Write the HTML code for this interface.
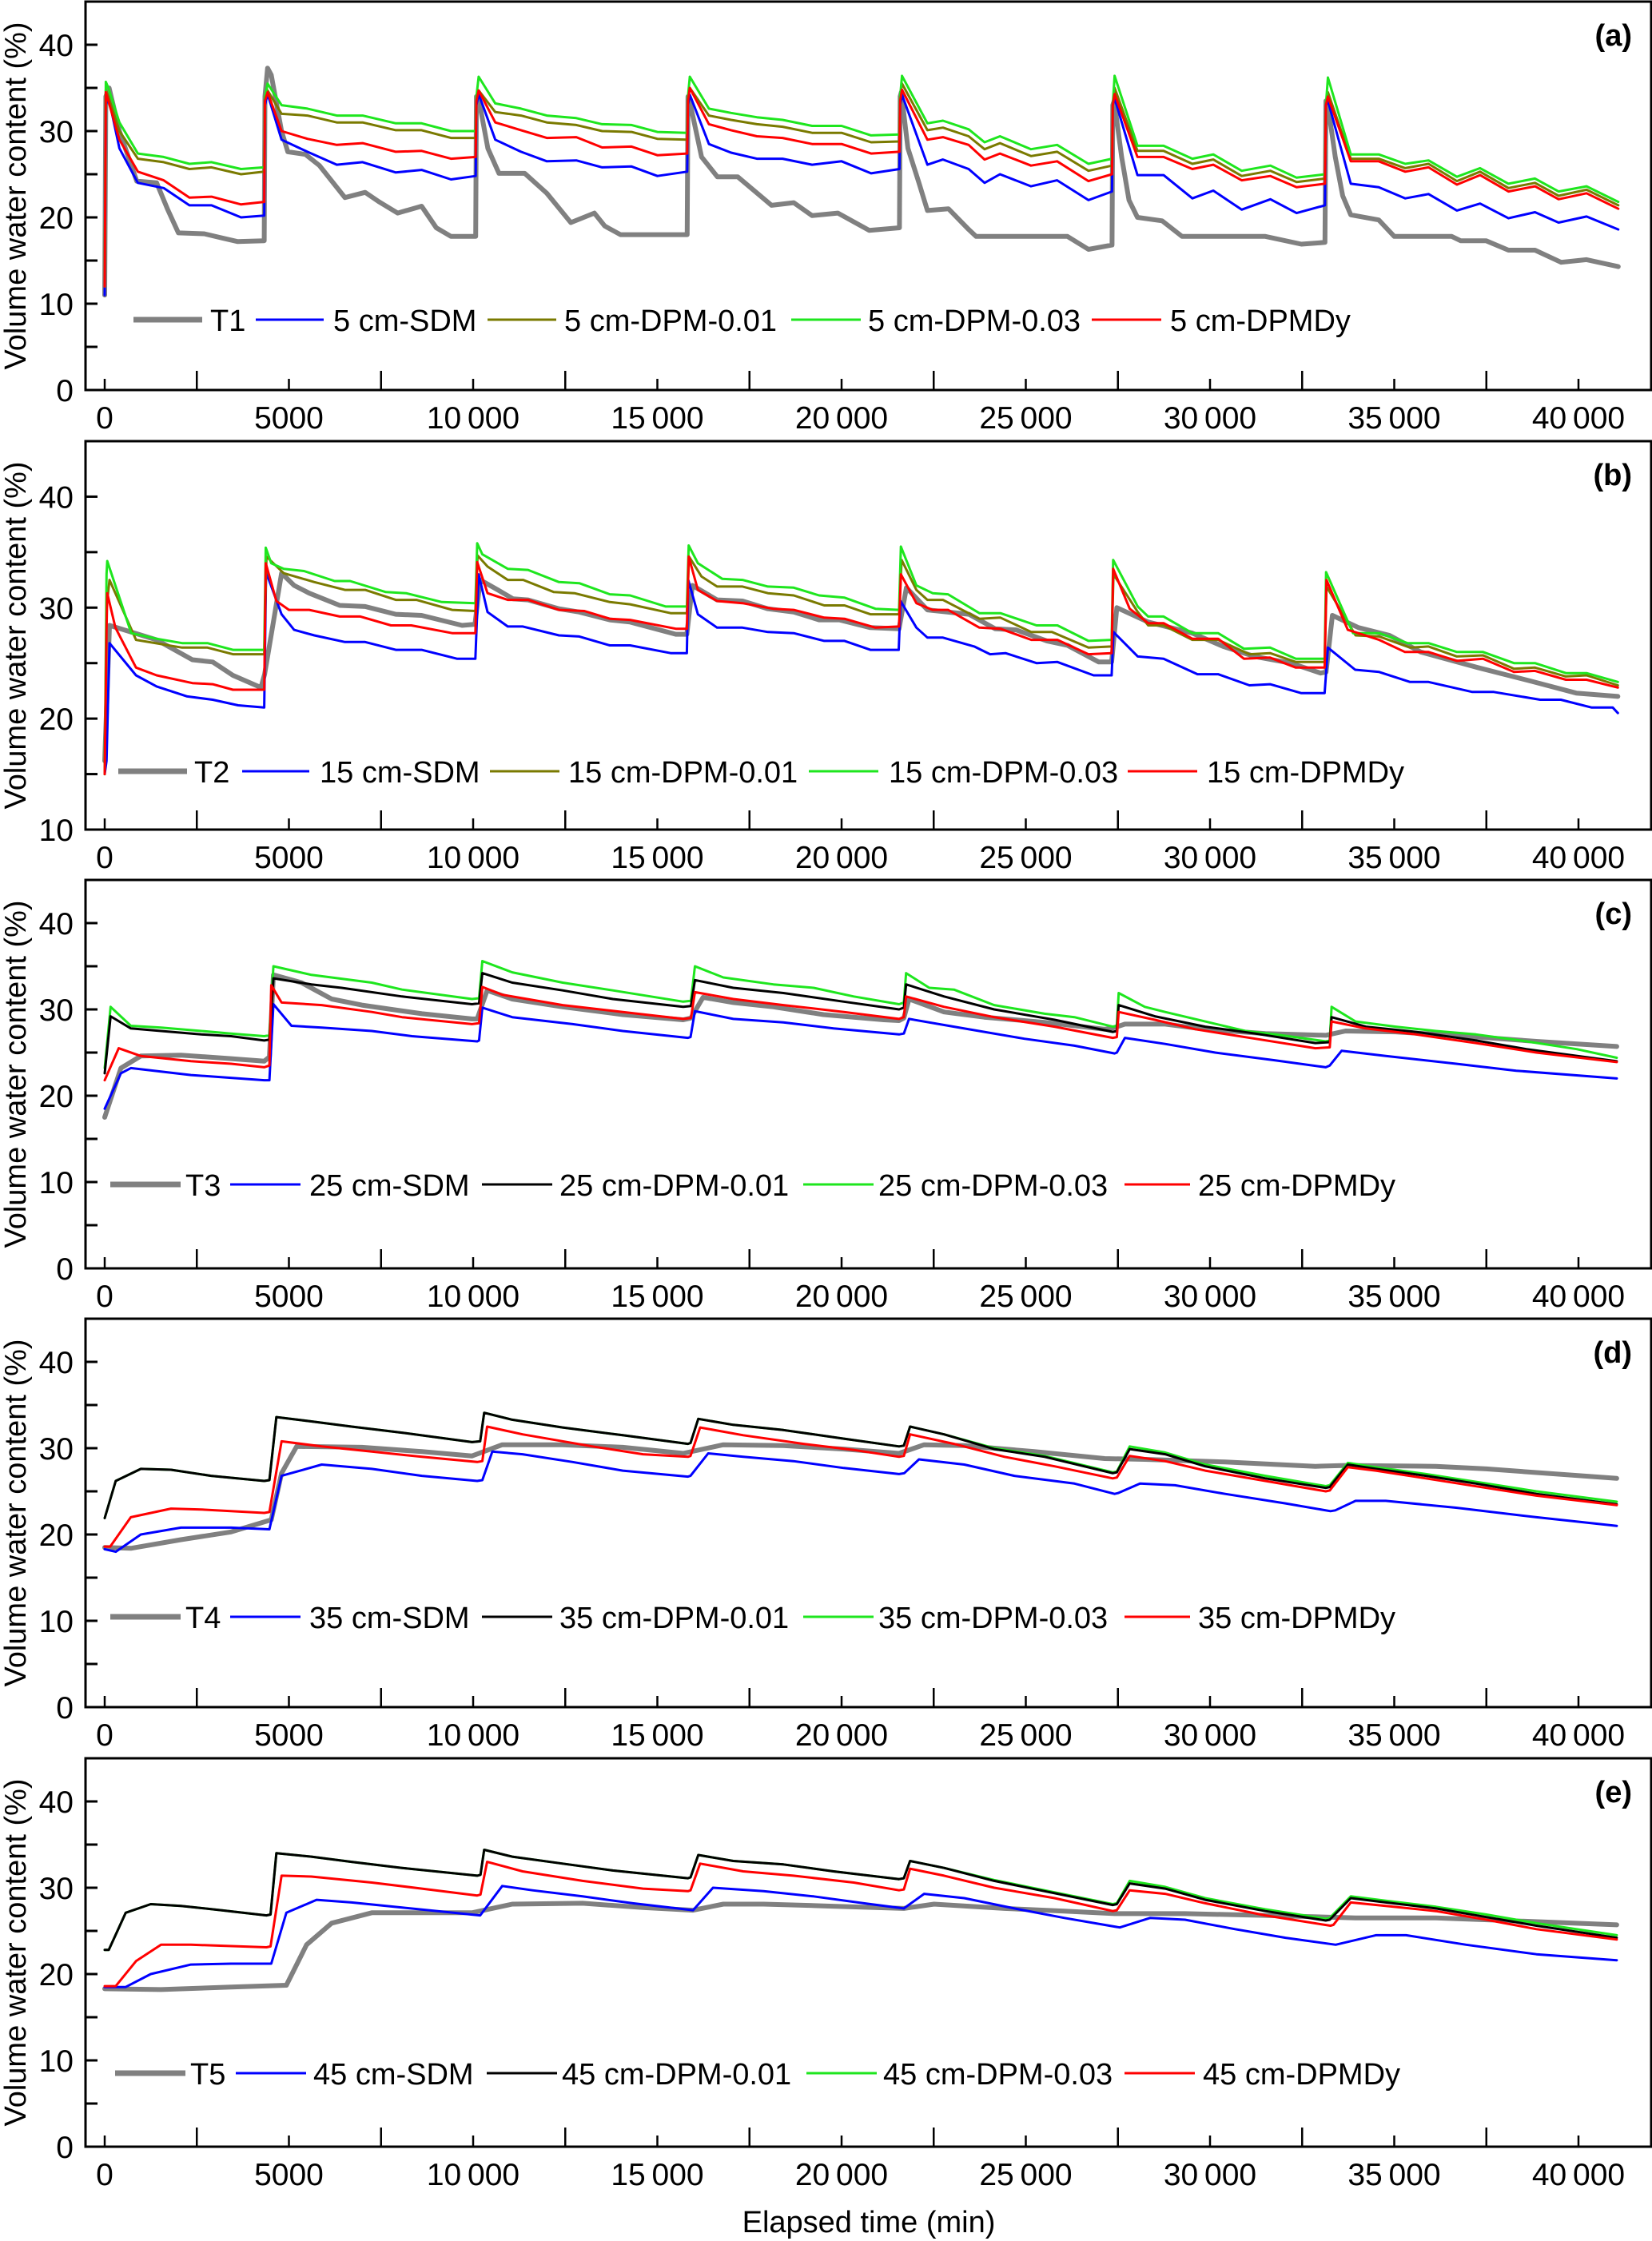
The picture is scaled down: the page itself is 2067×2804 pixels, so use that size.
<!DOCTYPE html>
<html><head><meta charset="utf-8"><style>
html,body{margin:0;padding:0;background:#fff;}
svg{display:block;font-family:"Liberation Sans",Arial,sans-serif;}
</style></head><body>
<svg id="chart" width="2067" height="2804" viewBox="0 0 2067 2804" xmlns="http://www.w3.org/2000/svg"></svg>
<script>
// ---------- shared axis data ----------
const xTicks = [0,5000,10000,15000,20000,25000,30000,35000,40000];
const xTickLabels = ["0","5000","10\u2009000","15\u2009000","20\u2009000","25\u2009000","30\u2009000","35\u2009000","40\u2009000"];
const yTicksFull = [0,10,20,30,40];
const yTicksB = [10,20,30,40];

// ---------- panel (a) ----------
const a_T1 = [[0,11],[30,34],[120,35],[400,30],[870,24.2],[1410,24],[1700,21],[2000,18.2],[2700,18.1],[3200,17.6],[3600,17.2],[4330,17.3],
[4350,34],[4420,37.3],[4520,36.5],[4800,30],[4970,27.6],[5450,27.3],[5830,26],[6520,22.3],[7070,22.9],[7450,21.8],[7950,20.5],[8600,21.3],[9000,18.8],[9400,17.8],[10070,17.8],
[10090,34],[10160,33.5],[10400,28],[10700,25.1],[11400,25.1],[12000,22.8],[12650,19.4],[13290,20.5],[13570,19],[14000,18],[15810,18],
[15830,34],[15900,33],[16200,27],[16630,24.7],[17180,24.7],[18100,21.4],[18700,21.7],[19200,20.2],[19900,20.5],[20750,18.5],[21570,18.8],
[21590,34],[21620,34.5],[21800,28],[22100,24],[22330,20.8],[22900,21],[23450,18.6],[23650,17.8],[26130,17.8],[26700,16.3],[27340,16.8],
[27360,33],[27400,33.5],[27600,27],[27800,22],[28030,20],[28700,19.6],[29240,17.8],[31500,17.8],[32480,16.9],[33120,17.1],
[33145,33.5],[33200,33],[33400,27],[33600,22.5],[33820,20.3],[34580,19.7],[35000,17.8],[36560,17.8],[36800,17.3],[37490,17.3],[38100,16.2],[38820,16.2],[39530,14.8],[40220,15.1],[41080,14.3]];
const a_time = [0,30,100,400,900,1600,2300,2900,3700,4330,
4350,4420,4800,5500,6300,7000,7900,8600,9400,10070,
10090,10150,10600,11300,12000,12800,13500,14300,15000,15810,
15830,15880,16400,17000,17700,18400,19200,20000,20800,21570,
21590,21640,22330,22750,23450,23880,24300,25140,25850,26700,27340,
27360,27410,28030,28740,29520,30090,30860,31640,32350,33120,
33145,33200,33820,34580,35300,35930,36700,37330,38100,38820,39460,40220,41080];
const a_SDM = [11,33,34,28,24,23.4,21.4,21.4,20,20.2,
33,34.3,29,27.6,26.1,26.4,25.2,25.5,24.4,24.8,
33,34.3,29,27.6,26.5,26.6,25.8,25.9,24.8,25.3,
33,34.2,28.5,27.5,26.8,26.8,26.1,26.5,25.1,25.6,
33,34.2,26.1,26.7,25.6,24,25,23.6,24.3,22,23,
33,33.8,24.9,24.9,22.2,23.1,20.9,22.1,20.5,21.4,
33,33.5,23.9,23.5,22.2,22.7,20.8,21.6,19.9,20.6,19.4,20.1,18.6];
const a_DPM01 = [12,34.8,34,30,26.8,26.4,25.6,25.8,25,25.3,
34,34.7,32,31.8,31,31,30.1,30.1,29.2,29.2,
34,34.7,32.2,31.8,31,30.7,30,29.9,29.1,29,
34,35,31.8,31.3,30.8,30.5,29.8,29.8,28.7,28.8,
34,35.5,30.1,30.4,29.4,27.9,28.6,27.1,27.6,25.4,26,
33,35,27.7,27.7,26.2,26.7,24.8,25.4,24.1,24.5,
33,34.5,26.8,26.8,25.7,26.2,24.2,25.3,23.4,24,22.5,23.2,21.4];
const a_DPM03 = [12,35.7,35,31,27.4,27,26.2,26.4,25.6,25.8,
34,35.5,33,32.6,31.8,31.8,30.9,30.9,30,30,
34,36.3,33.2,32.6,31.8,31.5,30.8,30.7,29.9,29.8,
34,36.3,32.6,32.1,31.6,31.3,30.6,30.6,29.5,29.6,
34,36.4,30.9,31.2,30.2,28.7,29.4,27.9,28.4,26.2,26.8,
33,36.4,28.3,28.3,26.8,27.3,25.4,26,24.6,25,
33,36.2,27.3,27.3,26.2,26.6,24.7,25.7,23.9,24.5,23,23.6,21.8];
const a_DPMDy = [12,34.5,33.5,29,25.3,24.3,22.3,22.4,21.5,21.8,
33.5,34.5,30,29.1,28.4,28.6,27.6,27.7,26.8,27,
33.5,34.7,31,30.1,29.2,29.3,28.1,28.2,27.2,27.4,
33.5,35,30.8,30.1,29.4,29.2,28.5,28.5,27.4,27.6,
33.5,34.8,29,29.3,28.4,26.7,27.4,26,26.5,24.2,25,
33,34.3,27,27,25.6,26.1,24.3,24.8,23.5,23.9,
33,34,26.5,26.5,25.3,25.8,23.8,24.9,23,23.6,22.1,22.8,21];

// ---------- panel (b) ----------
const b_T2 = [[0,16.2],[130,28.4],[1410,27.1],[2380,25.3],[2930,25.1],[3480,23.9],[4240,22.8],[4340,24],[4800,33.1],[5140,32],[5550,31.3],[6380,30.2],[7070,30.1],[7900,29.4],[8600,29.3],[9700,28.4],[10050,28.5],
[10190,32.5],[10670,31.6],[11080,30.8],[11490,30.7],[12330,29.9],[12880,29.6],[13710,28.9],[14260,28.7],[15500,27.6],[15800,27.6],
[15950,32],[16620,30.7],[17310,30.6],[18000,29.9],[18700,29.6],[19390,28.9],[19940,28.9],[20780,28.2],[21560,28.1],
[21760,31.8],[22330,29.8],[23460,29.4],[24170,28.1],[24730,28],[25570,27],[26130,26.6],[26980,25.1],[27330,25.1],
[27470,30],[28320,28.7],[29520,27.7],[30360,26.5],[31210,25.6],[32190,25],[33000,24.1],
[33150,24.2],[33320,29.3],[34030,28.2],[34870,27.5],[35720,26],[37270,24.6],[38680,23.4],[39940,22.3],[41070,22]];
const b_SDM = [[0,15],[50,16.2],[130,26.8],[850,23.9],[1410,22.9],[2240,22],[2930,21.7],[3620,21.2],[4330,21],[4380,33.2],[4800,29.4],[5140,28],[5690,27.5],[6520,26.9],[7070,26.9],[7900,26.2],[8600,26.2],[9560,25.4],[10060,25.4],
[10150,33],[10390,29.6],[10940,28.3],[11350,28.3],[12330,27.5],[12880,27.4],[13710,26.6],[14260,26.6],[15360,25.9],[15800,25.9],
[15840,32.5],[16100,29.4],[16620,28.2],[17310,28.2],[18000,27.8],[18700,27.7],[19530,27],[20080,27],[20780,26.2],[21550,26.2],
[21600,30.6],[22030,28.2],[22330,27.3],[22750,27.3],[23600,26.5],[24030,25.8],[24450,25.9],[25290,25],[25860,25.1],[26840,23.9],[27330,23.9],
[27380,27.8],[28040,25.6],[28740,25.4],[29660,24],[30220,24],[31070,23],[31630,23.1],[32470,22.3],[33110,22.3],
[33200,26.4],[33940,24.4],[34590,24.2],[35430,23.3],[35930,23.3],[37120,22.4],[37700,22.4],[38960,21.7],[39520,21.7],[40360,21],[40930,21],[41070,20.5]];
const b_DPM01 = [[0,15],[50,30],[130,32.5],[850,27.1],[2100,26.4],[2790,26.4],[3480,25.8],[4330,25.8],[4390,34.6],[4860,33.1],[5690,32.3],[6520,31.6],[7070,31.6],[7900,30.7],[8460,30.7],[9430,29.8],[10060,29.7],
[10120,34.7],[10390,33.7],[10940,32.5],[11360,32.5],[12190,31.4],[12750,31.3],[13710,30.5],[14260,30.3],[15360,29.5],[15800,29.5],
[15860,34.6],[16200,32.8],[16620,31.9],[17310,31.9],[18000,31.3],[18700,31.1],[19530,30.2],[20080,30.2],[20780,29.4],[21560,29.4],
[21630,34.3],[22030,31.6],[22330,30.7],[22750,30.7],[23740,29],[24310,29.1],[25150,27.8],[25710,27.8],[26700,26.4],[27330,26.5],
[27380,33],[28040,29.6],[28320,28.4],[28740,28.4],[29520,27.1],[30220,27.1],[31070,25.8],[31630,25.9],[32330,25.1],[33110,25.1],
[33160,31.9],[33950,27.5],[34590,27.4],[35430,26.4],[35930,26.5],[36700,25.6],[37410,25.7],[38250,24.5],[38820,24.6],[39660,23.8],[40220,23.9],[41070,23]];
const b_DPM03 = [[0,15],[50,33],[70,34.2],[720,27.7],[1410,27.2],[2100,26.8],[2790,26.8],[3480,26.2],[4330,26.2],[4370,35.4],[4520,34],[4860,33.5],[5410,33.3],[6240,32.4],[6660,32.4],[7630,31.4],[8180,31.3],[9150,30.5],[10060,30.4],
[10110,35.8],[10250,34.8],[10940,33.5],[11490,33.4],[12330,32.3],[12880,32.2],[13710,31.2],[14260,31.1],[15230,30.1],[15800,30.1],
[15850,35.6],[16100,34],[16760,32.6],[17310,32.5],[18000,31.9],[18700,31.8],[19390,31.1],[20080,30.9],[20920,29.9],[21560,29.8],
[21610,35.5],[22030,32],[22470,31.3],[22890,31.2],[23740,29.5],[24310,29.5],[25290,28.4],[25860,28.4],[26700,27],[27330,27.1],
[27370,34.3],[28040,30.1],[28320,29.2],[28740,29.2],[29520,27.7],[30220,27.7],[30920,26.3],[31630,26.4],[32330,25.4],[33110,25.4],
[33150,33.2],[33880,27.7],[34590,27.7],[35360,26.8],[35930,26.8],[36700,26],[37410,26],[38250,25],[38820,25],[39660,24.1],[40220,24.1],[41070,23.3]];
const b_DPMDy = [[0,15],[50,28],[70,31.3],[290,28.2],[850,24.6],[1410,23.9],[2380,23.2],[2930,23.1],[3480,22.6],[4330,22.6],[4370,34],[4660,30.6],[5000,29.8],[5550,29.8],[6380,29.2],[6940,29.2],[7770,28.4],[8320,28.4],[9430,27.7],[10060,27.7],
[10110,34.1],[10390,31.3],[10940,30.7],[11490,30.7],[12330,29.8],[13020,29.7],[13710,29],[14260,28.9],[15500,28.1],[15800,28.1],
[15850,34.6],[16100,31.6],[16620,30.6],[17310,30.4],[18140,29.9],[18700,29.8],[19530,29.1],[20080,29],[20920,28.2],[21560,28.3],
[21610,33],[22030,30.4],[22470,29.8],[22890,29.8],[23740,28.2],[24310,28.1],[25150,27.1],[25860,27.1],[26700,25.8],[27330,25.9],
[27370,33.5],[27820,29.9],[28320,28.6],[28740,28.6],[29520,27.2],[30220,27.2],[30920,25.4],[31630,25.5],[32330,24.6],[33110,24.6],
[33160,32.5],[33740,28],[34590,27.1],[35290,26],[35930,26],[36700,25.2],[37410,25.4],[38250,24.2],[38820,24.3],[39660,23.5],[40220,23.5],[41070,22.8]];

// ---------- panel (c) ----------
const c_T3 = [[0,17.5],[440,23.2],[980,24.6],[2070,24.7],[3430,24.3],[4330,24],[4470,24.5],[4580,34],[5340,33.1],[6160,31.2],[6980,30.5],[7790,30],[8610,29.5],[9970,28.9],[10110,28.9],[10380,32.2],[11060,31.2],[12430,30.3],[14060,29.4],[15700,28.8],[15910,29],[16240,31.4],[17060,30.8],[18150,30.3],[19510,29.4],[21150,28.8],[21560,28.7],[21690,29],[21830,31.2],[22780,29.7],[23870,29.1],[25510,28.5],[27140,27.7],[27410,27.9],[27690,28.3],[28780,28.3],[29870,27.7],[31500,27.2],[33140,27],[33680,27.5],[35040,27.4],[36950,26.9],[38860,26.3],[41040,25.7]];
const c_SDM = [[0,18.5],[440,22.6],[710,23.2],[2340,22.4],[4330,21.8],[4470,21.8],[4580,30.6],[5070,28.1],[5890,27.9],[7250,27.5],[8340,26.9],[10110,26.3],[10160,26.4],[10250,30.2],[11060,29.1],[12700,28.3],[14060,27.5],[15830,26.7],[15900,26.8],[16020,29.8],[17060,28.9],[18420,28.5],[19780,27.8],[21560,27.1],[21690,27.2],[21830,28.9],[23050,28],[24960,26.6],[26320,25.8],[27410,24.9],[27470,25],[27690,26.7],[28780,26],[30140,25],[31770,24.1],[33140,23.3],[33250,23.5],[33570,25.2],[34770,24.6],[36680,23.7],[38310,22.9],[41040,22]];
const c_DPM01 = [[0,22.6],[160,29.2],[710,27.8],[1530,27.5],[2620,27.1],[3430,26.9],[4330,26.4],[4470,26.5],[4580,33.6],[5610,32.9],[6430,32.5],[8070,31.5],[9970,30.6],[10160,30.7],[10250,34.2],[11060,33.1],[12430,32.2],[13790,31.2],[15700,30.3],[15910,30.4],[16020,33.4],[17060,32.5],[18420,31.9],[20060,30.9],[21560,30],[21690,30.2],[21750,32.9],[22780,31.5],[24140,30],[25780,28.8],[27360,27.4],[27470,27.5],[27520,30.5],[28500,29.2],[29870,28],[31230,27.2],[32860,26.1],[33250,26.2],[33300,29.1],[34230,28],[35590,27.4],[37220,26.4],[38590,25.4],[41040,24]];
const c_DPM03 = [[0,23.2],[160,30.3],[710,28.1],[1530,27.9],[2620,27.5],[3430,27.2],[4330,26.9],[4470,27],[4580,35],[5610,34],[7250,33.1],[8070,32.3],[9970,31.2],[10160,31.3],[10250,35.6],[11060,34.3],[12430,33.1],[13790,32.2],[15700,30.9],[15910,31],[16020,35],[16790,33.7],[18150,32.9],[19240,32.5],[20330,31.5],[21560,30.6],[21690,30.8],[21750,34.2],[22380,32.5],[23050,32.3],[24140,30.5],[25510,29.5],[26320,29.1],[27360,28],[27470,28.1],[27520,31.9],[28230,30.3],[28780,29.7],[29870,28.6],[30960,27.5],[31770,27.1],[33140,26.3],[33250,26.4],[33300,30.3],[33950,28.6],[35040,28],[36130,27.5],[37220,27.1],[38590,26.3],[39950,25.4],[41040,24.4]];
const c_DPMDy = [[0,21.8],[380,25.5],[980,24.6],[2340,24],[3430,23.7],[4330,23.3],[4470,23.5],[4520,32.8],[4800,30.8],[5890,30.5],[7250,29.7],[8070,29.1],[9970,28.3],[10160,28.4],[10250,32.6],[10790,31.7],[12430,30.5],[14060,29.7],[15700,28.9],[15910,29],[16020,32],[17060,31.2],[18420,30.5],[20060,29.7],[21560,28.9],[21690,29.1],[21750,31.5],[22780,30.3],[24140,29.1],[25780,28],[27360,26.7],[27470,26.8],[27520,29.7],[28500,28.8],[29600,27.7],[31230,26.6],[32860,25.5],[33250,25.6],[33300,28.6],[34230,27.8],[35590,27.1],[37220,26.1],[38860,25],[41040,23.9]];

// ---------- panel (d) ----------
const d_T4 = [[0,18.5],[710,18.4],[2070,19.4],[3430,20.3],[4520,21.7],[4800,27.1],[5210,30.2],[6980,30.1],[8610,29.6],[9970,29.1],[10790,30.4],[12430,30.4],[14060,30.1],[15700,29.4],[16790,30.4],[18420,30.3],[20060,29.9],[21560,29.4],[22240,30.4],[23330,30.3],[25230,29.6],[27140,28.8],[28230,28.7],[30410,28.4],[32860,27.9],[33680,28],[36130,27.9],[37500,27.6],[41040,26.5]];
const d_SDM = [[0,18.3],[300,18],[980,20],[2070,20.8],[3430,20.8],[4470,20.6],[4800,26.8],[5890,28.1],[7250,27.6],[8610,26.8],[10110,26.2],[10250,26.3],[10520,29.6],[11340,29.3],[12700,28.4],[14060,27.4],[15830,26.7],[15900,26.8],[16380,29.4],[17330,29],[18690,28.5],[20060,27.7],[21560,27],[21700,27.1],[22100,28.7],[23330,28.1],[24690,26.8],[26320,25.9],[27410,24.7],[27500,24.8],[28100,25.9],[29050,25.7],[30410,24.7],[32050,23.6],[33270,22.7],[33400,22.8],[33950,23.9],[34770,23.9],[36680,23.1],[38860,22],[41040,21]];
const d_DPM01 = [[0,21.9],[300,26.2],[980,27.6],[1800,27.5],[2890,26.8],[4330,26.2],[4470,26.3],[4660,33.6],[5610,33.1],[6700,32.5],[8070,31.8],[9970,30.7],[10190,30.8],[10300,34.1],[11060,33.3],[12430,32.4],[14060,31.5],[15830,30.5],[15900,30.6],[16110,33.4],[17060,32.7],[18420,32.1],[20060,31.1],[21560,30.2],[21690,30.3],[21860,32.5],[22780,31.6],[24140,29.9],[25510,29],[27360,27.1],[27470,27.2],[27820,29.9],[28780,29.3],[29870,27.9],[31500,26.5],[33140,25.4],[33250,25.5],[33740,28.1],[34500,27.6],[35860,26.8],[37220,25.9],[38860,24.7],[41040,23.5]];
const d_DPM03 = [[0,21.9],[300,26.2],[980,27.6],[1800,27.5],[2890,26.8],[4330,26.2],[4470,26.3],[4660,33.6],[5610,33.1],[6700,32.5],[8070,31.8],[9970,30.7],[10190,30.8],[10300,34.1],[11060,33.3],[12430,32.4],[14060,31.5],[15830,30.5],[15900,30.6],[16110,33.4],[17060,32.7],[18420,32.1],[20060,31.1],[21560,30.2],[21690,30.3],[21860,32.5],[22780,31.6],[24140,30],[25510,29.1],[27360,27.2],[27470,27.3],[27820,30.2],[28780,29.5],[29870,28.1],[31500,26.8],[33140,25.6],[33250,25.7],[33740,28.3],[34500,27.8],[35860,27],[37220,26.1],[38860,25],[41040,23.8]];
const d_DPMDy = [[0,18.6],[150,18.6],[710,22],[1800,23],[2620,22.9],[4330,22.5],[4470,22.6],[4800,30.8],[5890,30.2],[7250,29.6],[8610,29],[10110,28.4],[10250,28.5],[10380,32.5],[11340,31.6],[13240,30.2],[14610,29.3],[15830,29],[15900,29.1],[16160,32.4],[17330,31.5],[18970,30.5],[20330,29.8],[21560,29],[21690,29.1],[21860,31.6],[23050,30.5],[24420,29],[25780,27.9],[27360,26.5],[27470,26.6],[27820,29.1],[28780,28.5],[29870,27.4],[31500,26.2],[33140,25],[33250,25.1],[33740,27.8],[34500,27.4],[35860,26.5],[37500,25.4],[38860,24.5],[41040,23.4]];

// ---------- panel (e) ----------
const e_T5 = [[0,18.3],[1530,18.2],[3430,18.5],[4930,18.7],[5480,23.4],[6160,25.9],[7250,27.1],[9970,27.1],[11060,28.1],[12970,28.2],[14610,27.7],[15970,27.4],[16790,28.1],[17880,28.1],[19510,27.9],[21690,27.6],[22510,28.1],[24420,27.6],[26050,27.3],[27410,27],[29320,27],[31500,26.8],[33950,26.5],[36130,26.5],[38040,26.2],[41040,25.7]];
const e_SDM = [[0,18.5],[570,18.5],[1250,20],[2340,21.1],[3430,21.2],[4520,21.2],[4930,27.1],[5750,28.6],[6700,28.3],[8070,27.7],[10190,26.8],[10790,30.2],[11610,29.7],[12970,29],[14330,28.2],[15970,27.4],[16510,30],[17880,29.6],[19240,29],[20600,28.2],[21690,27.6],[22240,29.3],[23330,28.8],[24690,27.6],[26050,26.5],[27550,25.4],[28370,26.5],[29320,26.3],[30680,25.2],[32050,24.2],[33410,23.4],[34500,24.5],[35320,24.5],[36950,23.4],[38860,22.3],[41040,21.6]];
const e_DPM01 = [[0,22.8],[110,22.8],[570,27.1],[1250,28.1],[2070,27.9],[3160,27.4],[4390,26.8],[4500,26.9],[4660,34],[5610,33.6],[6700,33],[8070,32.3],[10110,31.4],[10200,31.5],[10300,34.4],[11060,33.6],[12430,32.8],[13790,32],[15830,31.1],[15900,31.2],[16110,33.8],[17060,33.1],[18420,32.7],[19780,31.9],[21560,31],[21690,31.1],[21860,33.1],[22780,32.3],[24140,30.8],[25510,29.6],[27360,28],[27470,28.1],[27820,30.5],[28780,29.9],[29870,28.6],[31500,27.3],[33140,26.2],[33250,26.3],[33820,28.8],[34770,28.3],[36130,27.6],[37500,26.6],[38860,25.6],[41040,24.2]];
const e_DPM03 = [[0,22.8],[110,22.8],[570,27.1],[1250,28.1],[2070,27.9],[3160,27.4],[4390,26.8],[4500,26.9],[4660,34],[5610,33.6],[6700,33],[8070,32.3],[10110,31.4],[10200,31.5],[10300,34.4],[11060,33.6],[12430,32.8],[13790,32],[15830,31.1],[15900,31.2],[16110,33.8],[17060,33.1],[18420,32.7],[19780,31.9],[21560,31],[21690,31.1],[21860,33.1],[22780,32.3],[24140,30.9],[25510,29.7],[27360,28.1],[27470,28.2],[27820,30.8],[28780,30.1],[29870,28.8],[31500,27.5],[33140,26.4],[33250,26.5],[33820,29],[34770,28.5],[36130,27.8],[37500,26.9],[38860,25.9],[41040,24.5]];
const e_DPMDy = [[0,18.6],[300,18.6],[850,21.5],[1530,23.4],[2340,23.4],[4390,23.1],[4500,23.2],[4800,31.4],[5610,31.3],[7250,30.6],[8610,29.9],[10110,29.1],[10200,29.2],[10380,33],[11340,31.9],[12970,30.8],[14610,29.9],[15830,29.6],[15900,29.7],[16160,32.8],[17330,31.9],[18690,31.4],[20330,30.6],[21560,29.7],[21690,29.8],[21860,32.2],[22780,31.4],[24140,30],[25780,28.8],[27360,27.3],[27470,27.4],[27820,29.7],[28780,29.3],[29870,28.2],[31500,26.8],[33270,25.6],[33350,25.7],[33820,28.3],[34770,27.9],[36130,27.3],[37500,26.3],[38860,25.2],[41040,24]];

// ---------- rendering ----------
const NS = "http://www.w3.org/2000/svg";
const svg = document.getElementById('chart');
function mk(tag, attrs, parent){
  const el = document.createElementNS(NS, tag);
  for (const k in attrs) el.setAttribute(k, attrs[k]);
  (parent||svg).appendChild(el);
  return el;
}
const PLOT_L = 107, PLOT_R = 2066, PH = 486;
function xScale(t){ return 131 + t * 0.0461; }
function zip(ts, vs){ return ts.map((t,i)=>[t, vs[i]]); }

const COL = {T:'#808080', SDM:'#0000ff', OLIVE:'#7a7a00', BLACK:'#000000', GREEN:'#1ee61e', RED:'#ff0000'};

const panels = [
  {id:'a', top:2, ymin:0, ymax:45, ticks:yTicksFull, label:'(a)',
   series:[['T1',a_T1,COL.T,6],['5 cm-SDM',zip(a_time,a_SDM),COL.SDM,3],['5 cm-DPM-0.01',zip(a_time,a_DPM01),COL.OLIVE,3],['5 cm-DPM-0.03',zip(a_time,a_DPM03),COL.GREEN,3],['5 cm-DPMDy',zip(a_time,a_DPMDy),COL.RED,3]],
   legY:398, leg:[[167,253,263],[320,405,417],[610,696,706],[990,1077,1086],[1366,1453,1464]]},
  {id:'b', top:552, ymin:10, ymax:45, ticks:yTicksB, label:'(b)',
   series:[['T2',b_T2,COL.T,6],['15 cm-SDM',b_SDM,COL.SDM,3],['15 cm-DPM-0.01',b_DPM01,COL.OLIVE,3],['15 cm-DPM-0.03',b_DPM03,COL.GREEN,3],['15 cm-DPMDy',b_DPMDy,COL.RED,3]],
   legY:413, leg:[[148,234,243],[303,387,400],[613,700,711],[1012,1099,1112],[1411,1498,1510]]},
  {id:'c', top:1101, ymin:0, ymax:45, ticks:yTicksFull, label:'(c)',
   series:[['T3',c_T3,COL.T,6],['25 cm-SDM',c_SDM,COL.SDM,3],['25 cm-DPM-0.03',c_DPM03,COL.GREEN,3],['25 cm-DPM-0.01',c_DPM01,COL.BLACK,3],['25 cm-DPMDy',c_DPMDy,COL.RED,3]],
   legY:381, legOrder:[0,1,3,2,4], leg:[[138,226,232],[288,376,387],[603,691,700],[1005,1093,1099],[1407,1489,1499]]},
  {id:'d', top:1650, ymin:0, ymax:45, ticks:yTicksFull, label:'(d)',
   series:[['T4',d_T4,COL.T,6],['35 cm-SDM',d_SDM,COL.SDM,3],['35 cm-DPM-0.03',d_DPM03,COL.GREEN,3],['35 cm-DPM-0.01',d_DPM01,COL.BLACK,3],['35 cm-DPMDy',d_DPMDy,COL.RED,3]],
   legY:373, legOrder:[0,1,3,2,4], leg:[[138,226,232],[288,376,387],[603,691,700],[1005,1093,1099],[1407,1489,1499]]},
  {id:'e', top:2200, ymin:0, ymax:45, ticks:yTicksFull, label:'(e)',
   series:[['T5',e_T5,COL.T,6],['45 cm-SDM',e_SDM,COL.SDM,3],['45 cm-DPM-0.03',e_DPM03,COL.GREEN,3],['45 cm-DPM-0.01',e_DPM01,COL.BLACK,3],['45 cm-DPMDy',e_DPMDy,COL.RED,3]],
   legY:394, legOrder:[0,1,3,2,4], leg:[[144,232,238],[295,383,392],[609,697,703],[1009,1097,1105],[1407,1495,1505]]}
];

panels.forEach(p=>{
  const bottom = p.top + PH;
  const yScale = v => bottom - (v - p.ymin) * PH / (p.ymax - p.ymin);
  const g = mk('g', {});
  
  
  const clipId = 'clip-' + p.id;
  const cp = mk('clipPath', {id: clipId}, g);
  mk('rect', {x:PLOT_L, y:p.top, width:PLOT_R-PLOT_L, height:PH}, cp);

  const sg = mk('g', {'clip-path':'url(#'+clipId+')'}, g);
  p.series.forEach(s=>{
    const pts = s[1].map(d=>xScale(d[0]).toFixed(1)+','+yScale(d[1]).toFixed(1)).join(' ');
    const pl = mk('polyline', {points:pts, fill:'none', stroke:s[2], 'stroke-width':s[3], 'stroke-linejoin':'round', 'stroke-linecap':'round'}, sg);
    
    
  });

  const fr = mk('rect', {x:PLOT_L, y:p.top, width:PLOT_R-PLOT_L, height:PH, fill:'none', stroke:'#000', 'stroke-width':3}, g);
  
  

  for (let v = p.ymin; v <= 40; v += 5) {
    const y = yScale(v);
    if (v > p.ymin) mk('line', {x1:PLOT_L, x2:PLOT_L+15, y1:y, y2:y, stroke:'#000', 'stroke-width':3}, g);
  }
  p.ticks.forEach(v=>{
    const t = mk('text', {x:92, y:yScale(v)+14, 'text-anchor':'end', 'font-size':39, fill:'#000'}, g);
    t.textContent = String(v);
    
    
  });

  for (let t = 0; t <= 40000; t += 2500) {
    const x = xScale(t);
    const len = (t % 5000 === 0) ? 14 : 24;
    mk('line', {x1:x, x2:x, y1:bottom, y2:bottom-len, stroke:'#000', 'stroke-width':2.5}, g);
  }
  xTicks.forEach((t,i)=>{
    const tx = mk('text', {x:xScale(t), y:bottom+48, 'text-anchor':'middle', 'font-size':39, fill:'#000'}, g);
    tx.textContent = xTickLabels[i];
    
    
  });

  const pl = mk('text', {x:2042, y:p.top+55, 'text-anchor':'end', 'font-size':38, 'font-weight':'bold', fill:'#000'}, g);
  pl.textContent = p.label;
  
  

  const cy = p.top + PH/2;
  const yt = mk('text', {x:0, y:0, transform:'translate(32,'+cy+') rotate(-90)', 'text-anchor':'middle', 'font-size':38, fill:'#000'}, g);
  yt.textContent = 'Volume water content (%)';
  
  

  const lg = mk('g', {}, g);
  
  
  const order = p.legOrder || [0,1,2,3,4];
  const ly = p.top + p.legY;
  order.forEach((si, k)=>{
    const s = p.series[si];
    const pos = p.leg[k];
    const eg = mk('g', {}, lg);
    
    
    mk('line', {x1:pos[0], x2:pos[1], y1:ly, y2:ly, stroke:s[2], 'stroke-width': si===0 ? 7 : 3}, eg);
    const lt = mk('text', {x:pos[2], y:ly+14, 'font-size':38, fill:'#000'}, eg);
    lt.textContent = s[0];
  });
});

const xt = mk('text', {x:1087, y:2793, 'text-anchor':'middle', 'font-size':38, fill:'#000'});
xt.textContent = 'Elapsed time (min)';


</script>
</body></html>
